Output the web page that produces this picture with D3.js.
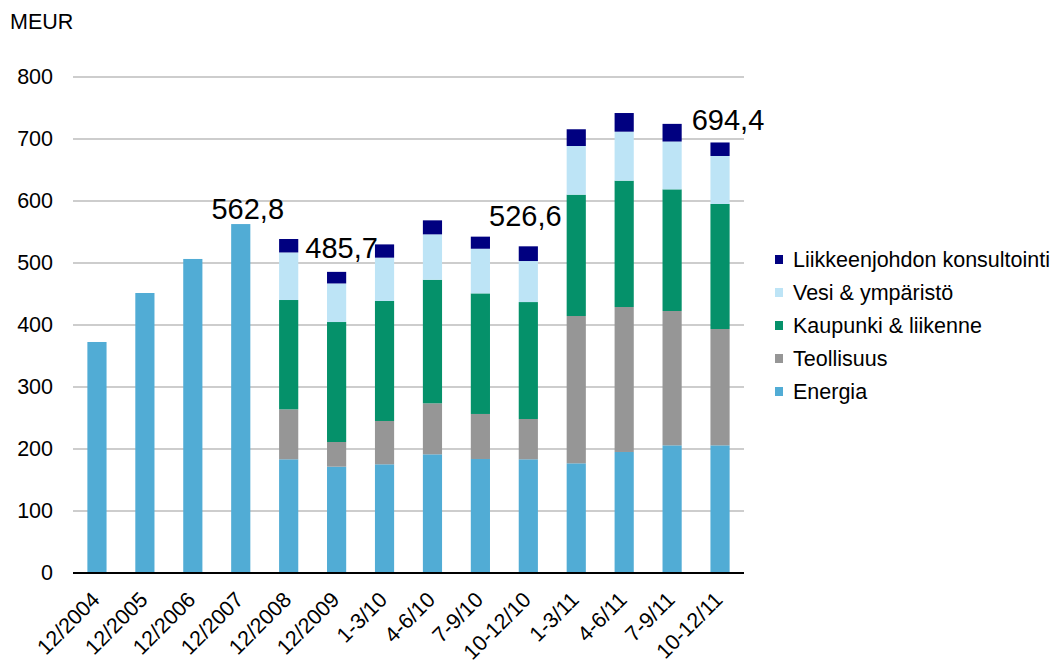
<!DOCTYPE html>
<html><head><meta charset="utf-8">
<script src="https://cdn.jsdelivr.net/npm/d3@7"></script>
<style>
body{margin:0;background:#fff;}
svg{display:block;font-family:"Liberation Sans",Arial,sans-serif;}
</style></head>
<body>
<svg id="c" width="1059" height="668"></svg>
<script>
const categories = ["12/2004","12/2005","12/2006","12/2007","12/2008","12/2009","1-3/10","4-6/10","7-9/10","10-12/10","1-3/11","4-6/11","7-9/11","10-12/11"];
const energia   = [372.6, 451.6, 506.5, 562.8, 183.4, 171.5, 175.3, 191.4, 183.9, 183.4, 176.9, 195.2, 205.9, 205.9];
const teollisuus= [0, 0, 0, 0, 80.6, 39.8, 69.9, 82.3, 72.6, 65.0, 237.6, 233.8, 216.7, 187.6];
const kaupunki  = [0, 0, 0, 0, 176.3, 193.5, 193.5, 199.3, 194.5, 188.6, 195.7, 203.8, 196.2, 201.7];
const vesi      = [0, 0, 0, 0, 76.7, 62.2, 69.9, 73.2, 72.0, 66.2, 78.5, 79.0, 77.1, 77.4];
const liikkeen  = [0, 0, 0, 0, 21.7, 18.7, 21.4, 22.6, 19.5, 23.7, 27.0, 30.1, 28.5, 21.8];
const seriesNames = ["Energia","Teollisuus","Kaupunki & liikenne","Vesi & ympäristö","Liikkeenjohdon konsultointi"];
const seriesColors = ["#51acd5","#969696","#05916a","#bde4f6","#000080"];
const yTicks = [0,100,200,300,400,500,600,700,800];
const totalLabels = [{cat:"12/2007",text:"562,8"},{cat:"12/2009",text:"485,7"},{cat:"10-12/10",text:"526,6"},{cat:"10-12/11",text:"694,4"}];
const labelOffsets = [{dx:7,dy:5},{dx:5,dy:14},{dx:-3,dy:20},{dx:8,dy:12}];

const svg = d3.select("#c");
const mLeft = 73, mRight = 744, mTop = 77, mBottom = 573;
const x = d3.scaleBand().domain(categories).range([mLeft, mRight]).paddingInner(0.6).paddingOuter(0.3);
const y = d3.scaleLinear().domain([0,800]).range([mBottom, mTop]);
const FS = 21.5;

const rows = categories.map((c,i)=>({cat:c, "Energia":energia[i], "Teollisuus":teollisuus[i], "Kaupunki & liikenne":kaupunki[i], "Vesi & ympäristö":vesi[i], "Liikkeenjohdon konsultointi":liikkeen[i]}));
const stack = d3.stack().keys(seriesNames)(rows);

// gridlines
svg.append("g").selectAll("line").data(yTicks.filter(d=>d>0)).join("line")
  .attr("x1", mLeft).attr("x2", mRight).attr("y1", d=>y(d)).attr("y2", d=>y(d))
  .attr("stroke", "#bdbdbd").attr("stroke-width", 1.5);

// y tick labels
svg.append("g").selectAll("text").data(yTicks).join("text")
  .attr("x", 53).attr("y", d=>y(d)).attr("text-anchor","end").attr("dominant-baseline","central")
  .attr("font-size", FS).attr("fill","#000").text(d=>d);

svg.append("text").attr("x",10).attr("y",28.5).attr("font-size",FS).text("MEUR");

// bars
const g = svg.append("g");
stack.forEach((s,si)=>{
  g.append("g").attr("fill", seriesColors[si]).selectAll("rect").data(s.filter(d=>d[1]-d[0]>0)).join("rect")
    .attr("x", d=>x(d.data.cat)).attr("width", x.bandwidth())
    .attr("y", d=>y(d[1])).attr("height", d=>y(d[0])-y(d[1]));
});

// axis line
svg.append("line").attr("x1", mLeft).attr("x2", mRight).attr("y1", mBottom).attr("y2", mBottom)
  .attr("stroke","#000").attr("stroke-width",2.2);

// x labels
svg.append("g").selectAll("text").data(categories).join("text")
  .attr("transform", d=>`translate(${x(d)+x.bandwidth()/2+4},${mBottom+28}) rotate(-45)`)
  .attr("text-anchor","end").attr("font-size",FS).text(d=>d);

// total labels
const totals = categories.map((c,i)=>energia[i]+teollisuus[i]+kaupunki[i]+vesi[i]+liikkeen[i]);
svg.append("g").selectAll("text").data(totalLabels).join("text")
  .attr("x", (d,i)=>x(d.cat)+x.bandwidth()/2+labelOffsets[i].dx)
  .attr("y", (d,i)=>y(totals[categories.indexOf(d.cat)])-labelOffsets[i].dy)
  .attr("text-anchor","middle").attr("font-size",29).text(d=>d.text);

// legend
const legendOrder = seriesNames.map((n,i)=>({n, c:seriesColors[i]})).reverse();
const lg = svg.append("g").selectAll("g").data(legendOrder).join("g")
  .attr("transform",(d,i)=>`translate(775,${259.5+i*33})`);
lg.append("rect").attr("x",0).attr("y",-4.5).attr("width",8).attr("height",9).attr("fill",d=>d.c);
lg.append("text").attr("x",18).attr("y",0).attr("dominant-baseline","central").attr("font-size",FS).text(d=>d.n);
</script>
</body></html>
